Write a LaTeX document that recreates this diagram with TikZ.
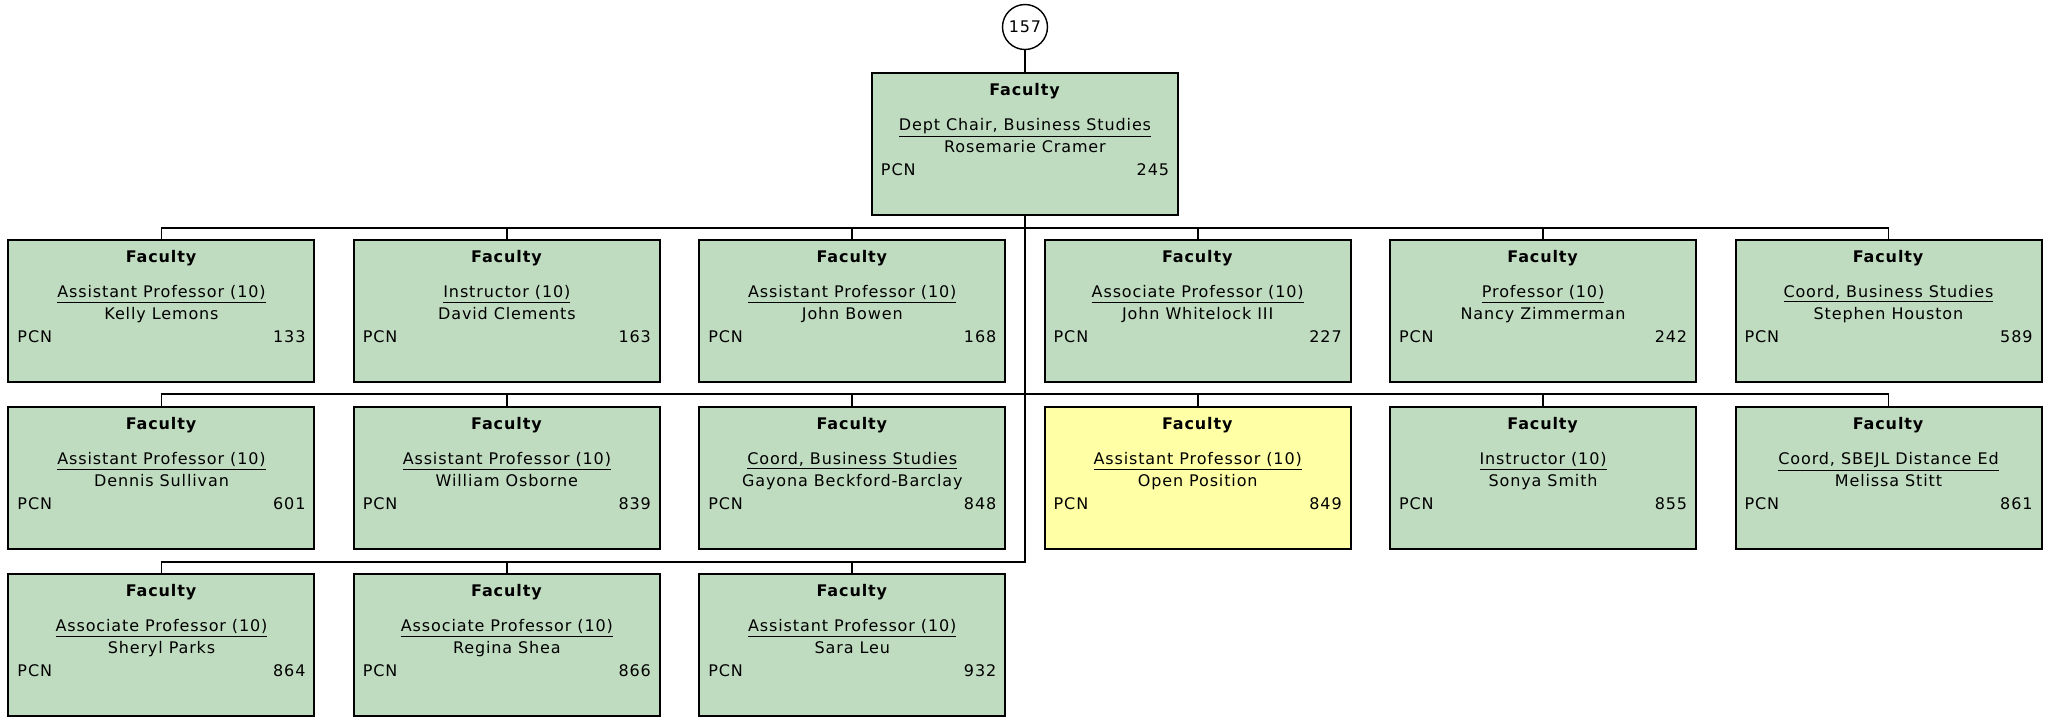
\documentclass[tikz,border=0pt]{standalone}
\usepackage{fontspec}
\setmainfont{DejaVu Sans}[LetterSpace=5.5]
\usetikzlibrary{positioning}

\definecolor{facgreen}{HTML}{C0DCC0}
\definecolor{openyellow}{HTML}{FFFFA6}

\begin{document}
\begin{tikzpicture}[
            box/.style={
                draw,
                line width=1pt,
                fill=facgreen,
                outer sep=0pt,
                minimum width=153pt,
                minimum height=71pt,
                inner xsep=4.5pt,
                inner ysep=5.1pt,
                font=\fontsize{8pt}{11.45pt}\selectfont,
                execute at begin node={\begin{minipage}[c][60.8pt][t]{144pt}\centering},
                execute at end node={\end{minipage}}
            },
            vacant/.style={box, fill=openyellow},
            count/.style={
                draw,
                circle,
                line width=0.7pt,
                fill=white,
                outer sep=0pt,
                minimum size=22.5pt,
                inner sep=0pt,
                font=\fontsize{8pt}{8pt}\selectfont
            },
            link/.style={line width=0.9pt}
        ]
        \useasboundingbox (-512.5pt,72pt) rectangle (512pt,-288pt);

        \node[box] (chair) at (0,0) {\textbf{Faculty}\\[5.9pt] \underline{Dept Chair, Business Studies}\\ Rosemarie Cramer\\ PCN\hfill 245};
        \node[count, above=11.75pt of chair] (total) {157};

        % first row
        \node[box, below left=12.5pt and 9.85pt of chair.south] (bowen) {\textbf{Faculty}\\[5.9pt] \underline{Assistant Professor (10)}\\ John Bowen\\ PCN\hfill 168};
        \node[box, left=19.7pt of bowen] (clements) {\textbf{Faculty}\\[5.9pt] \underline{Instructor (10)}\\ David Clements\\ PCN\hfill 163};
        \node[box, left=19.7pt of clements] (lemons) {\textbf{Faculty}\\[5.9pt] \underline{Assistant Professor (10)}\\ Kelly Lemons\\ PCN\hfill 133};
        \node[box, below right=12.5pt and 9.85pt of chair.south] (whitelock) {\textbf{Faculty}\\[5.9pt] \underline{Associate Professor (10)}\\ John Whitelock III\\ PCN\hfill 227};
        \node[box, right=19.7pt of whitelock] (zimmerman) {\textbf{Faculty}\\[5.9pt] \underline{Professor (10)}\\ Nancy Zimmerman\\ PCN\hfill 242};
        \node[box, right=19.7pt of zimmerman] (houston) {\textbf{Faculty}\\[5.9pt] \underline{Coord, Business Studies}\\ Stephen Houston\\ PCN\hfill 589};

        % second row
        \node[box, below=12.5pt of lemons] (sullivan) {\textbf{Faculty}\\[5.9pt] \underline{Assistant Professor (10)}\\ Dennis Sullivan\\ PCN\hfill 601};
        \node[box, below=12.5pt of clements] (osborne) {\textbf{Faculty}\\[5.9pt] \underline{Assistant Professor (10)}\\ William Osborne\\ PCN\hfill 839};
        \node[box, below=12.5pt of bowen] (beckford) {\textbf{Faculty}\\[5.9pt] \underline{Coord, Business Studies}\\ Gayona Beckford-Barclay\\ PCN\hfill 848};
        \node[vacant, below=12.5pt of whitelock] (open) {\textbf{Faculty}\\[5.9pt] \underline{Assistant Professor (10)}\\ Open Position\\ PCN\hfill 849};
        \node[box, below=12.5pt of zimmerman] (smith) {\textbf{Faculty}\\[5.9pt] \underline{Instructor (10)}\\ Sonya Smith\\ PCN\hfill 855};
        \node[box, below=12.5pt of houston] (stitt) {\textbf{Faculty}\\[5.9pt] \underline{Coord, SBEJL Distance Ed}\\ Melissa Stitt\\ PCN\hfill 861};

        % third row
        \node[box, below=12.5pt of sullivan] (parks) {\textbf{Faculty}\\[5.9pt] \underline{Associate Professor (10)}\\ Sheryl Parks\\ PCN\hfill 864};
        \node[box, below=12.5pt of osborne] (shea) {\textbf{Faculty}\\[5.9pt] \underline{Associate Professor (10)}\\ Regina Shea\\ PCN\hfill 866};
        \node[box, below=12.5pt of beckford] (leu) {\textbf{Faculty}\\[5.9pt] \underline{Assistant Professor (10)}\\ Sara Leu\\ PCN\hfill 932};

        \coordinate[above=6pt of lemons.north] (bus1);
        \coordinate[above=6.5pt of sullivan.north] (bus2);
        \coordinate[above=6pt of parks.north] (bus3);

        \draw[link] (total) -- (chair);

        \draw[link] (chair.south) |- (bus1 -| lemons.north) -- (lemons.north);
        \draw[link] (chair.south) |- (bus1 -| clements.north) -- (clements.north);
        \draw[link] (chair.south) |- (bus1 -| bowen.north) -- (bowen.north);
        \draw[link] (chair.south) |- (bus1 -| whitelock.north) -- (whitelock.north);
        \draw[link] (chair.south) |- (bus1 -| zimmerman.north) -- (zimmerman.north);
        \draw[link] (chair.south) |- (bus1 -| houston.north) -- (houston.north);

        \draw[link] (chair.south) |- (bus2 -| sullivan.north) -- (sullivan.north);
        \draw[link] (chair.south) |- (bus2 -| osborne.north) -- (osborne.north);
        \draw[link] (chair.south) |- (bus2 -| beckford.north) -- (beckford.north);
        \draw[link] (chair.south) |- (bus2 -| open.north) -- (open.north);
        \draw[link] (chair.south) |- (bus2 -| smith.north) -- (smith.north);
        \draw[link] (chair.south) |- (bus2 -| stitt.north) -- (stitt.north);

        \draw[link] (chair.south) |- (bus3 -| parks.north) -- (parks.north);
        \draw[link] (chair.south) |- (bus3 -| shea.north) -- (shea.north);
        \draw[link] (chair.south) |- (bus3 -| leu.north) -- (leu.north);
        \end{tikzpicture}
\end{document}
